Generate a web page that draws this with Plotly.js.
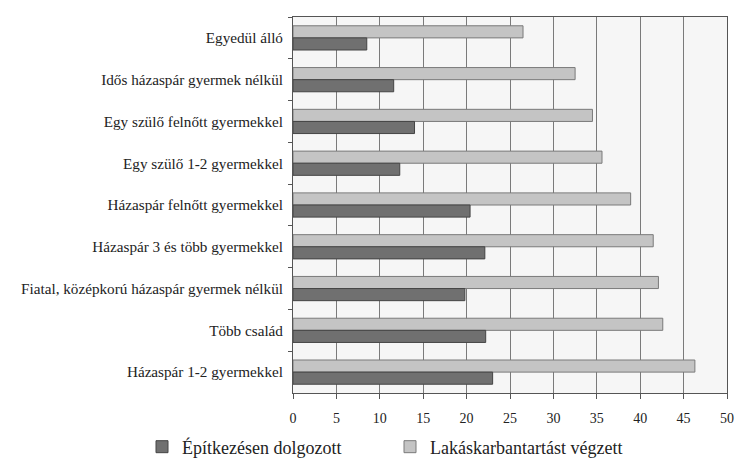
<!DOCTYPE html>
<html>
<head>
<meta charset="utf-8">
<script src="https://cdn.plot.ly/plotly-3.0.1.min.js"></script>
<style>html,body{margin:0;padding:0;background:#fff;}#chart{width:735px;height:475px;}</style>
</head>
<body>
<div id="chart"></div>
<script>
const categories = [
  "Egyedül álló",
  "Idős házaspár gyermek nélkül",
  "Egy szülő felnőtt gyermekkel",
  "Egy szülő 1-2 gyermekkel",
  "Házaspár felnőtt gyermekkel",
  "Házaspár 3 és több gyermekkel",
  "Fiatal, középkorú házaspár gyermek nélkül",
  "Több család",
  "Házaspár 1-2 gyermekkel"
];
const epitkezes = [8.5, 11.6, 14.0, 12.3, 20.4, 22.1, 19.8, 22.2, 23.0];
const karbantartas = [26.5, 32.5, 34.5, 35.6, 38.9, 41.5, 42.1, 42.6, 46.3];
const xTicks = [0, 5, 10, 15, 20, 25, 30, 35, 40, 45, 50];

const fam = "Liberation Serif, Times New Roman, serif";

const data = [
  {
    type: "bar", orientation: "h", name: "Lakáskarbantartást végzett",
    y: categories, x: karbantartas, legend: "legend2",
    marker: {color: "#c4c4c4", line: {color: "#7a7a7a", width: 1}}
  },
  {
    type: "bar", orientation: "h", name: "Építkezésen dolgozott",
    y: categories, x: epitkezes, legend: "legend",
    marker: {color: "#707070", line: {color: "#444", width: 1}}
  }
];

const legendBase = {
  orientation: "h", xref: "container", yref: "container",
  y: 0.059, xanchor: "left", yanchor: "middle",
  font: {family: fam, size: 18, color: "#222"},
  bgcolor: "rgba(0,0,0,0)"
};

const layout = {
  width: 735, height: 475,
  margin: {l: 293, r: 8, t: 17, b: 82},
  paper_bgcolor: "#ffffff",
  plot_bgcolor: "#f6f6f6",
  font: {family: fam, size: 15, color: "#222"},
  barmode: "group",
  bargap: 0.42,
  bargroupgap: 0,
  showlegend: true,
  legend: Object.assign({}, legendBase, {x: 142 / 735}),
  legend2: Object.assign({}, legendBase, {x: 390 / 735}),
  xaxis: {
    range: [0, 50], tickvals: xTicks, ticktext: xTicks.map(String),
    showgrid: true, gridcolor: "#7a7a7a", gridwidth: 1,
    showline: true, linecolor: "#555", linewidth: 1, mirror: true,
    ticks: "outside", ticklen: 5, tickcolor: "#555",
    zeroline: false, fixedrange: true, ticklabelstandoff: 7,
    tickfont: {family: fam, size: 14, color: "#222"}
  },
  yaxis: {
    type: "category", autorange: "reversed",
    showline: true, linecolor: "#555", linewidth: 1, mirror: true,
    ticks: "outside", ticklen: 4, tickcolor: "#555", tickson: "boundaries",
    showgrid: false, fixedrange: true, ticklabelstandoff: 6,
    tickfont: {family: fam, size: 15.2, color: "#222"}
  }
};

Plotly.newPlot("chart", data, layout, {displayModeBar: false, staticPlot: true});
</script>
</body>
</html>
